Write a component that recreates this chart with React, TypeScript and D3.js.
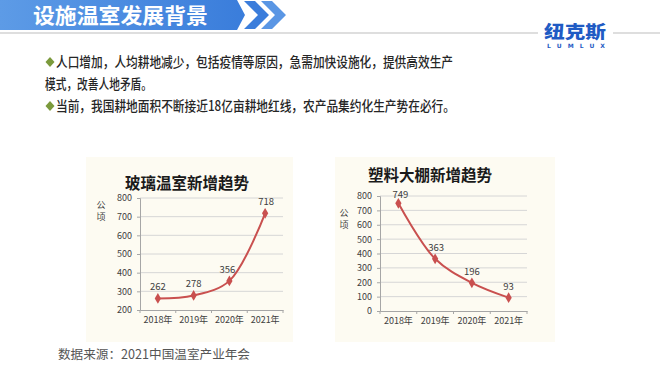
import React, { useEffect, useRef } from 'react';
import * as d3 from 'd3';

const years = ['2018年', '2019年', '2020年', '2021年'];
const glassValues = [262, 278, 356, 718];
const plasticValues = [749, 363, 196, 93];
const glassTicks = [200, 300, 400, 500, 600, 700, 800];
const plasticTicks = [0, 100, 200, 300, 400, 500, 600, 700, 800];

const bulletLines = [
  '人口增加，人均耕地减少，包括疫情等原因，急需加快设施化，提供高效生产',
  '模式，改善人地矛盾。',
  '当前，我国耕地面积不断接近18亿亩耕地红线，农产品集约化生产势在必行。',
];

const FONT = '"Noto Sans CJK SC", "Noto Sans", sans-serif';

type ChartCfg = {
  title: string;
  values: number[];
  ticks: number[];
  x0: number;
  x1: number;
  yTop: number;
  yBottom: number;
  panel: [number, number, number, number];
  titleX: number;
  titleY: number;
  unitX: number;
  unitY: number;
  labelDx: number[];
  labelDy: number[];
};

const charts: ChartCfg[] = [
  {
    title: '玻璃温室新增趋势',
    values: glassValues,
    ticks: glassTicks,
    x0: 140, x1: 283, yTop: 198, yBottom: 310,
    panel: [86, 157, 207, 185],
    titleX: 187, titleY: 189, unitX: 101, unitY: 208,
    labelDx: [0, 0, -2, 1],
    labelDy: [-8, -8, -8, -8],
  },
  {
    title: '塑料大棚新增趋势',
    values: plasticValues,
    ticks: plasticTicks,
    x0: 380, x1: 527, yTop: 196, yBottom: 311,
    panel: [335, 157, 220, 185],
    titleX: 430, titleY: 181, unitX: 344, unitY: 216,
    labelDx: [2, 1, 0, 0],
    labelDy: [-5, -8, -8, -8],
  },
];

export default function App() {
  const svgRef = useRef<SVGSVGElement>(null);

  useEffect(() => {
    const svg = d3.select(svgRef.current).html(null);

    svg.append('rect').attr('width', 660).attr('height', 368).attr('fill', '#ffffff');

    // header bar
    const grad = svg.append('defs').append('linearGradient').attr('id', 'hdr');
    grad.append('stop').attr('offset', '0%').attr('stop-color', '#5d9be6');
    grad.append('stop').attr('offset', '100%').attr('stop-color', '#3a7ddb');
    svg.append('path').attr('d', 'M0,0 H237 L245,15 L237,30 H0 Z').attr('fill', 'url(#hdr)');
    svg.append('path').attr('d', 'M244,1 H255 L269,15 L255,29 H244 L258,15 Z').attr('fill', '#3b7ddb');
    svg.append('path').attr('d', 'M261,1 H272 L286,15 L272,29 H261 L275,15 Z').attr('fill', '#5a96e4');
    svg.append('text').attr('x', 33).attr('y', 23).attr('fill', '#ffffff')
      .attr('font-family', FONT).attr('font-size', 21).attr('font-weight', 700)
      .attr('textLength', 175).attr('lengthAdjust', 'spacingAndGlyphs')
      .text('设施温室发展背景');

    svg.append('line').attr('x1', 0).attr('x2', 538).attr('y1', 33).attr('y2', 33)
      .attr('stroke', '#bdbdbd').attr('stroke-width', 1.2);
    svg.append('line').attr('x1', 613).attr('x2', 660).attr('y1', 33).attr('y2', 33)
      .attr('stroke', '#bdbdbd').attr('stroke-width', 1.2);

    // logo
    svg.append('text').attr('x', 575).attr('y', 38).attr('text-anchor', 'middle')
      .attr('fill', '#1f5bc4').attr('font-family', FONT).attr('font-size', 17).attr('font-weight', 900)
      .attr('textLength', 62).attr('lengthAdjust', 'spacingAndGlyphs').text('纽克斯');
    svg.append('text').attr('x', 576).attr('y', 47.5).attr('text-anchor', 'middle')
      .attr('fill', '#1f5bc4').attr('font-family', '"DejaVu Sans", sans-serif').attr('font-size', 6)
      .attr('font-weight', 700).attr('textLength', 58).attr('lengthAdjust', 'spacing').text('LUMLUX');

    // bullets
    const lineY = [67, 89, 111];
    bulletLines.forEach((t, i) => {
      const hasBullet = i !== 1;
      if (hasBullet) {
        const cx = 50;
        const cy = lineY[i] - 5;
        svg.append('path')
          .attr('d', `M${cx},${cy - 5} L${cx + 4.5},${cy} L${cx},${cy + 5} L${cx - 4.5},${cy} Z`)
          .attr('fill', '#7b9a3c');
      }
      const x = hasBullet ? 56 : 45;
      const end = i === 1 ? 152 : i === 0 ? 453 : 455;
      svg.append('text').attr('x', x).attr('y', lineY[i]).attr('fill', '#262626')
        .attr('font-family', FONT).attr('font-size', 14).attr('font-weight', 500)
        .attr('textLength', end - x).attr('lengthAdjust', 'spacingAndGlyphs').text(t);
    });

    // charts
    charts.forEach((c) => {
      const [px, py, pw, ph] = c.panel;
      svg.append('rect').attr('x', px).attr('y', py).attr('width', pw).attr('height', ph)
        .attr('fill', '#fdfbf2');

      const x = d3.scaleBand<string>().domain(years).range([c.x0, c.x1]);
      const y = d3.scaleLinear()
        .domain([c.ticks[0], c.ticks[c.ticks.length - 1]])
        .range([c.yBottom, c.yTop]);

      const g = svg.append('g');

      g.append('text').attr('x', c.titleX).attr('y', c.titleY).attr('text-anchor', 'middle')
        .attr('fill', '#1a1a1a').attr('font-family', FONT).attr('font-size', 15.5).attr('font-weight', 700)
        .text(c.title);

      // gridlines
      g.selectAll('.grid').data(c.ticks.slice(1)).join('line')
        .attr('x1', c.x0).attr('x2', c.x1)
        .attr('y1', (d) => y(d)).attr('y2', (d) => y(d))
        .attr('stroke', '#d6d6d6').attr('stroke-width', 1);

      // y axis
      const yAxis = d3.axisLeft(y).tickValues(c.ticks).tickSize(3).tickPadding(5);
      const ya = g.append('g').attr('transform', `translate(${c.x0},0)`).call(yAxis);
      ya.select('.domain').attr('stroke', '#a6a6a6');
      ya.selectAll('.tick line').attr('stroke', '#a6a6a6');
      ya.selectAll('text').attr('fill', '#404040').attr('font-family', FONT).attr('font-size', 9);

      // x axis
      const xa = g.append('g').attr('transform', `translate(0,${c.yBottom})`)
        .call(d3.axisBottom(x).tickSize(0).tickPadding(7));
      xa.select('.domain').attr('stroke', '#a6a6a6');
      xa.selectAll('text').attr('fill', '#404040').attr('font-family', FONT).attr('font-size', 9);
      g.selectAll('.xtick').data(years).join('line')
        .attr('x1', (d) => x(d)! + x.bandwidth()).attr('x2', (d) => x(d)! + x.bandwidth())
        .attr('y1', c.yBottom).attr('y2', c.yBottom + 3).attr('stroke', '#a6a6a6');
      g.append('line').attr('x1', c.x0).attr('x2', c.x0).attr('y1', c.yBottom).attr('y2', c.yBottom + 3)
        .attr('stroke', '#a6a6a6');

      // unit label
      g.append('text').attr('x', c.unitX).attr('y', c.unitY).attr('text-anchor', 'middle')
        .attr('fill', '#404040').attr('font-family', FONT).attr('font-size', 9)
        .selectAll('tspan').data(['公', '顷']).join('tspan')
        .attr('x', c.unitX).attr('dy', (d, i) => (i === 0 ? 0 : 12)).text((d) => d);

      const cx = (i: number) => x(years[i])! + x.bandwidth() / 2;
      const line = d3.line<number>()
        .x((d, i) => cx(i))
        .y((d) => y(d))
        .curve(d3.curveCatmullRom.alpha(0.5));

      g.append('path').attr('d', line(c.values)).attr('fill', 'none')
        .attr('stroke', '#c9504f').attr('stroke-width', 2);

      g.selectAll('.mk').data(c.values).join('path')
        .attr('d', d3.symbol().type(d3.symbolDiamond).size(34)())
        .attr('transform', (d, i) => `translate(${cx(i)},${y(d)})`)
        .attr('fill', '#c9504f');

      g.selectAll('.lbl').data(c.values).join('text')
        .attr('x', (d, i) => cx(i) + c.labelDx[i]).attr('y', (d, i) => y(d) + c.labelDy[i])
        .attr('text-anchor', 'middle').attr('fill', '#404040')
        .attr('font-family', FONT).attr('font-size', 9.5).text((d) => d);
    });

    // source
    svg.append('text').attr('x', 58).attr('y', 359).attr('fill', '#555555')
      .attr('font-family', FONT).attr('font-size', 12.5)
      .attr('textLength', 192).attr('lengthAdjust', 'spacingAndGlyphs')
      .text('数据来源：2021中国温室产业年会');
  }, []);

  return (
    <svg
      ref={svgRef}
      width={660}
      height={368}
      style={{ position: 'absolute', left: 0, top: 0 }}
    />
  );
}
